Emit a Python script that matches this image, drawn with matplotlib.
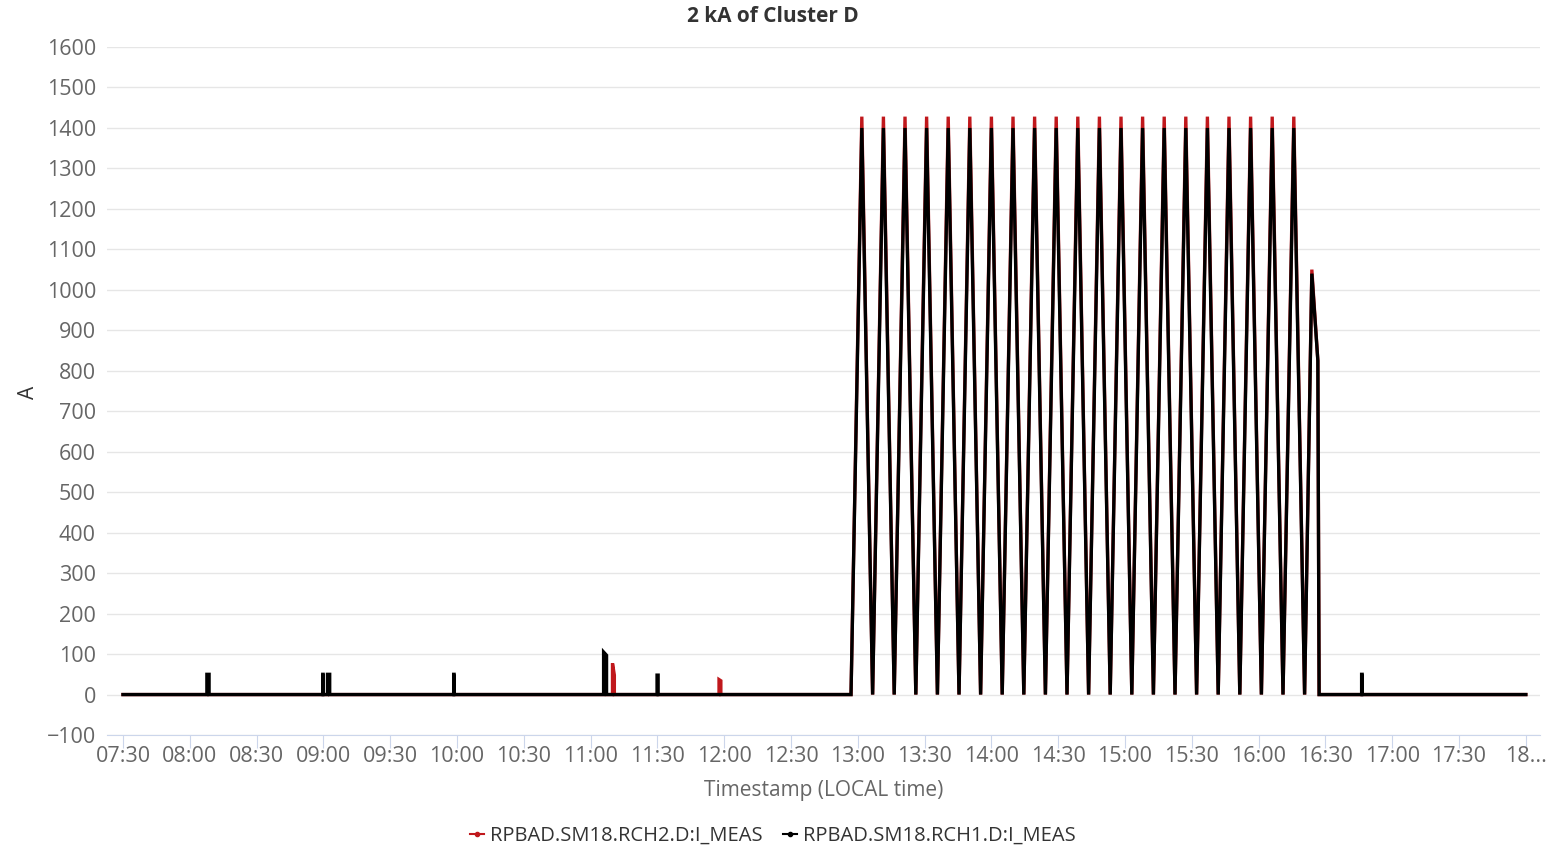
import pandas as pd
import matplotlib
matplotlib.use("Agg")
import matplotlib.pyplot as plt
import matplotlib.dates as mdates
from matplotlib.lines import Line2D
from matplotlib.ticker import FuncFormatter

plt.rcParams['font.family'] = ['Open Sans', 'DejaVu Sans']

day = "2018-06-12 "
t_start, t_end = "07:30:00", "18:00:00"

# turning points of the powering cycles
cycle_valleys = ["12:56:57", "13:06:39", "13:16:21", "13:26:03", "13:35:45", "13:45:27",
                 "13:55:09", "14:04:51", "14:14:33", "14:24:15", "14:33:57", "14:43:39",
                 "14:53:21", "15:03:03", "15:12:45", "15:22:27", "15:32:09", "15:41:51",
                 "15:51:33", "16:01:15", "16:10:57", "16:20:39"]
cycle_peaks = ["13:01:48", "13:11:30", "13:21:12", "13:30:54", "13:40:36", "13:50:18",
               "14:00:00", "14:09:42", "14:19:24", "14:29:06", "14:38:48", "14:48:30",
               "14:58:12", "15:07:54", "15:17:36", "15:27:18", "15:37:00", "15:46:42",
               "15:56:24", "16:06:06", "16:15:48"]
rch2_peak = 1428
rch1_peak = 1400

# last, interrupted cycle
abort_times = ["16:23:54", "16:26:36", "16:27:10"]
rch2_abort = [1050, 825, 0]
rch1_abort = [1040, 825, 0]

# short pulses while idle: start, end, level at start, level at end
rch1_pulses = [("08:07:40", "08:08:40", 50, 50),
               ("08:59:42", "08:59:54", 50, 50),
               ("09:01:50", "09:02:50", 50, 50),
               ("09:58:30", "09:58:42", 50, 50),
               ("11:05:50", "11:07:10", 105, 97),
               ("11:29:50", "11:30:20", 48, 48),
               ("16:46:15", "16:46:30", 50, 50)]
rch2_pulses = [("11:09:50", "11:10:40", 77, 48),
               ("11:57:40", "11:58:30", 37, 34)]

red = "#c0181c"
black = "#000000"


def ts(s):
    return pd.Timestamp(day + s)


def build(peak, abort_vals, pulses):
    segs = [[(ts(t_start), 0)], [(ts(t_end), 0)]]
    for a, b, h1, h2 in pulses:
        segs.append([(ts(a), 0), (ts(a), h1), (ts(b), h2), (ts(b), 0)])
    cyc = []
    for i, v in enumerate(cycle_valleys):
        cyc.append((ts(v), 0))
        if i < len(cycle_peaks):
            cyc.append((ts(cycle_peaks[i]), peak))
    cyc += [(ts(t), v) for t, v in zip(abort_times, abort_vals)]
    segs.append(cyc)
    segs.sort(key=lambda s: s[0][0])
    pts = [p for s in segs for p in s]
    return [p[0] for p in pts], [p[1] for p in pts]


fig = plt.figure(figsize=(15.58, 8.47), dpi=100)
ax = fig.add_axes([0.0687, 0.1322, 0.9197, 0.8123])

x2, y2 = build(rch2_peak, rch2_abort, rch2_pulses)
x1, y1 = build(rch1_peak, rch1_abort, rch1_pulses)
ax.plot(x2, y2, color=red, lw=2.4, solid_joinstyle='miter')
ax.plot(x1, y1, color=black, lw=2.4, solid_joinstyle='miter')

ax.set_ylim(-100, 1600)
ax.set_yticks(range(-100, 1601, 100))
ax.set_yticklabels([str(v).replace('-', '\u2212') for v in range(-100, 1601, 100)])
ax.set_xlim(ts("07:22:50"), ts("18:06:20"))
ticks = pd.date_range(ts(t_start), ts(t_end), freq="30min")
ax.set_xticks(ticks)


def fmt(x, pos):
    d = mdates.num2date(x)
    if d.hour == 18:
        return "18..."
    return d.strftime("%H:%M")


ax.xaxis.set_major_formatter(FuncFormatter(fmt))

ax.grid(axis='y', color='#e6e6e6', lw=1)
ax.set_axisbelow(True)
for s in ['left', 'right', 'top']:
    ax.spines[s].set_visible(False)
ax.spines['bottom'].set_color('#ccd6eb')
ax.spines['bottom'].set_position(('data', -100))
ax.tick_params(axis='y', length=0, labelsize=15.5, labelcolor='#666666', pad=8)
ax.tick_params(axis='x', length=9, color='#ccd6eb', labelsize=15.5, labelcolor='#666666', pad=-1)

fig.text(0.496, 0.980, "2 kA of Cluster D", ha='center', va='center',
         fontsize=15, fontweight='bold', color='#333333')
fig.text(0.529, 0.067, "Timestamp (LOCAL time)", ha='center', va='center',
         fontsize=15, color='#666666')
fig.text(0.018, 0.537, "A", ha='center', va='center', rotation=90,
         fontsize=15, color='#333333')

handles = [Line2D([], [], color=red, lw=1.5, marker='o', markersize=3),
           Line2D([], [], color=black, lw=1.5, marker='o', markersize=3)]
fig.legend(handles, ["RPBAD.SM18.RCH2.D:I_MEAS", "RPBAD.SM18.RCH1.D:I_MEAS"],
           loc='center', bbox_to_anchor=(0.496, 0.013), ncol=2, frameon=False,
           fontsize=14.5, handlelength=0.7, handletextpad=0.3, columnspacing=1.0,
           labelcolor='#333333')

fig.savefig("out.png", dpi=100)
